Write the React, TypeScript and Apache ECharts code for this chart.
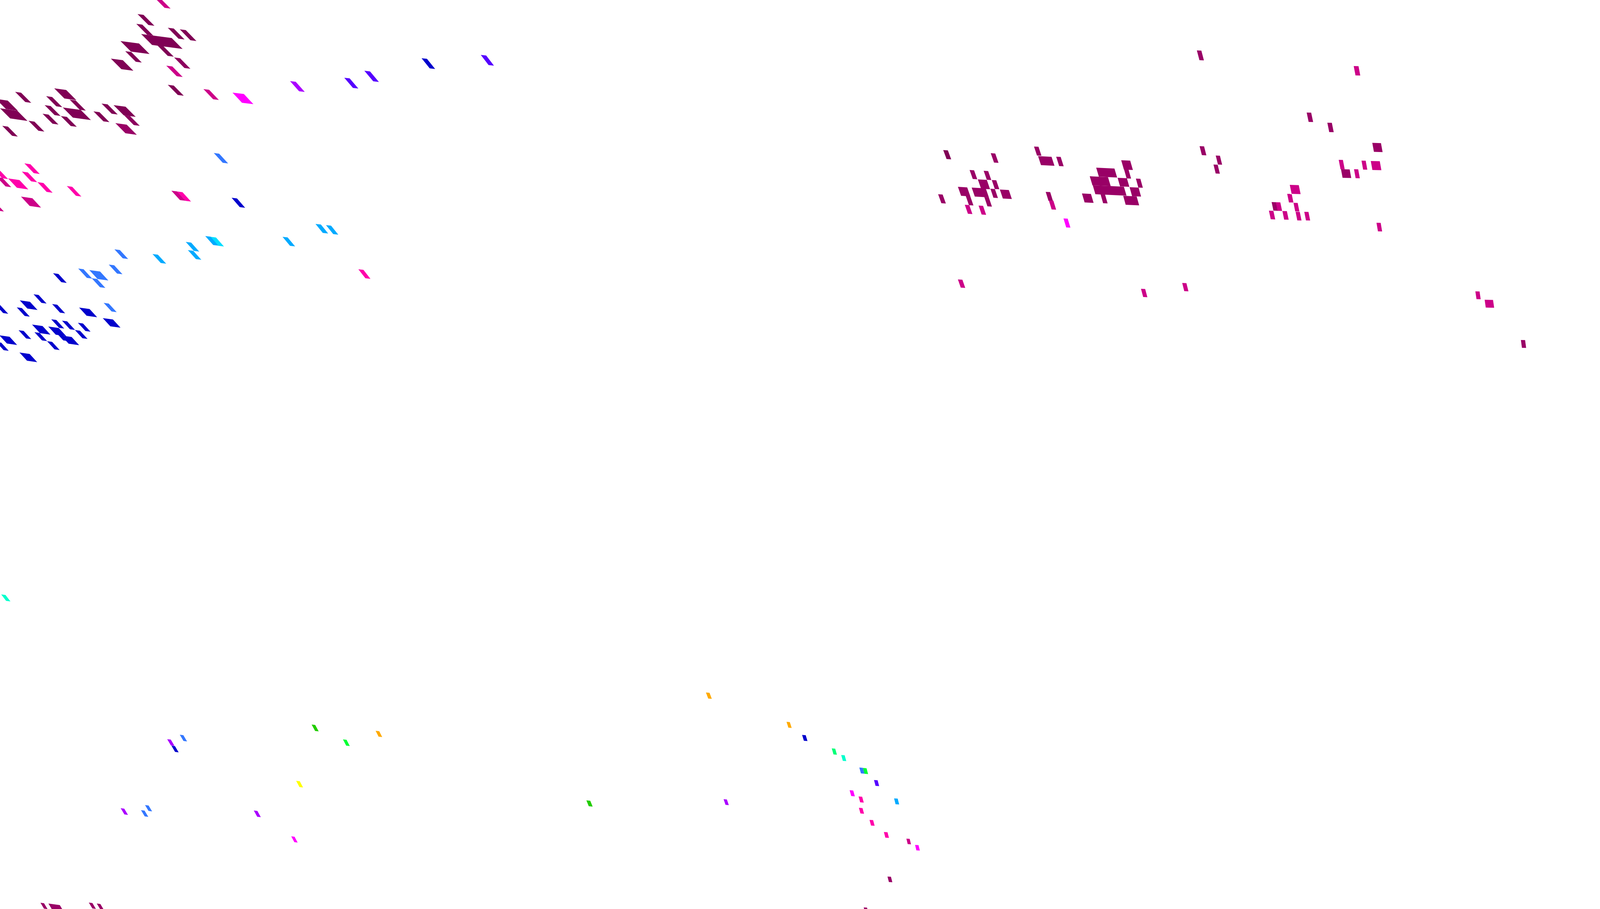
import React, { useEffect, useRef } from "react";
import * as echarts from "echarts";

// Each mark: [x, y, top width, height], in the chart's plane units (0-5340 by 0-2326).
const plum8c: number[][] = [[581,147,20,27],[414,295,20,25]];
const plum80: number[][] = [
  [459,36,20,28],[455,61,20,28],[560,71,20,28],[600,75,20,28],[471,87,102,28],[525,116,20,27],
  [402,105,62,27],[418,131,20,27],[370,150,40,27],[560,217,20,26],[50.5,235,20,26],[181,226,40,26],
  [209.5,275,60,26],[232.5,255,20,26],[154,246,20,26],[149,269,20,25.5],[142,291,20,25.5],[203,297,20,25.5],
  [312,285,20,25.5],[339,265,20,26],[379,269,40,26],[95,309,20,25.5],[7.5,322,19,25.5],[0,277,58,26],[-14,253,40,26],
  [3148,384,15.5,23],
];
const plum99: number[][] = [
  [385,315,38,26],[3306.6,392,15,24],[3451,375,15,23],[3464.5,399.5,45,23],[3525,401,15,24],
  [3236,435,15,23],[3283,437,15,23],[3263.5,459,30,24],[3310,460.7,15,23],[3197,478,31,23],
  [3243,480,47,23],[3305.5,483,15,23],[3337,485,30,23],[3131,497,15,23],[3223,501,15,24],[3285,504,15,24],
  [3490,491,15,23],[3742,410,30,24],[3658.5,429,61,23],[3751.5,433.5,15,23],[3637,451,61,23],[3647,474,104,23],
  [3730,455,31,22],[3791,457,15,23],[3770,479,30,23],[3611,495,30,23],[3673,497,15,23],[3748.6,501,45,23],
  [3994.5,129,15,25],[4361,288,15,24],[4430,314,15,24],[4003.6,374,15,23],[4057.5,398,14,23],[4050,421,14,23],
  [4580,365.6,29,23],[4475.5,433,29,22],[4244,517,15,22],[5076,870,14,20],
  [135,2310,12,15],[161.6,2312,38,15],[296.4,2309.5,12,15],[323,2312,12,15],[2962,2243,11.5,14],[2882.7,2322,11,14],
];
const magentaDeep: number[][] = [
  [513,-8,20,28],[555,168,20,27],[679,228,19,26],[-11,453,19,24],[70,503,38,24],[-36,515,20,24],[572,488,19,24],
  [3220,524,15,23],[3266,526,15,23],[3500.6,513,15,23],[3197,715,15,21],[3808,739,14,21],
  [4518,169,16,24],[4468,409,14,24],[4544,411,14,23],[4575,412,30,23],[4519,433,14,23],[4304.6,473,30,23],
  [4296,496,15,22],[4258,517.5,15,22],[4235,539,15,22],[4280,540,15,22],[4317,519,14,22],[4324,542,14,22],
  [4353,542,14,22],[4594,570,14,22],[3945.6,724,14,21],[4924,745.5,14,20],[4955,767,28,20],[3025,2146,11,14],
];
const pink: number[][] = [
  [81.5,418,20,25],[73,439,20,25],[-24,431,20,25],[27,456.5,38,24],[125,466,20,25],[223,476,18,25],[591,490,18,24],
  [1196,689,17,23],[2865.5,2038,12,15],[2866.6,2067,12,14.5],[2902,2098,12,14.5],[2950,2129,12,14.5],
];
const magenta: number[][] = [[776,237,38,26],[3549.4,559,14,23],[972,2140,11,15],[2835.6,2022,12,15],[3054,2162,11.5,14]];
const violet: number[][] = [[968,207.6,19,26],[558,1891.4,12,16],[402.7,2068,12,16],[847,2074,12,16],[2415,2045,11,14.5]];
const indigo: number[][] = [[1149,199,18,26],[1216,181,19,27],[1604.6,140.6,18,26],[2917,1996,12,15]];
const navy: number[][] = [
  [773,506,18,24],[177,699,18,23],[112,753,17,22],[66,768.5,34,21],[-16,779,17,22],[56,786.5,17,22],[174,778,17,22],
  [264,787,35,21],[343,814,34,21],[171,817,17,22],[207,820.5,17,22],[260,826,17,21],[107,830.5,35,22],[161,835.5,35,21],
  [204,858.5,35,21],[186,850,17,21],[250,844.5,17,21],[115,850,17,21],[62,845,17,21],[157,873,17,21],[-2,858,34,21],
  [-13,875,17,21],[65,902,34,21],[1407,149,18,26],[572,1908,12,16],[2677,1880.5,12,15],
];
const azure: number[][] = [
  [713.5,391.5,18,25],[382,638,18,23],[363,677,18,23],[261,687,18,24],[298,691,36,23],[306,712,18,23],[346,775,17,22],
  [600,1880,12,16],[484,2060,12,15],[470.5,2073,12,16],[2868,1964,12,15],
];
const sky: number[][] = [[685,604,19,23],[620,619,18,23],[627,640,18,23],[509,650,18,23],[1053,573,18,23],[1088,576,17,23],[943,606,17,23],[2984,2043,12,15]];
const cyan: number[][] = [[703,606,18,23]];
const turquoise: number[][] = [[4,1521,14.5,16.5],[2807.5,1932,11.5,15]];
const mint: number[][] = [[2776,1915,11.5,15.5]];
const lime: number[][] = [[1144.6,1892,12,16],[2880,1965,12,15]];
const leaf: number[][] = [[1040,1854,12,16.5],[1957,2048,13,15]];
const yellow: number[][] = [[988.4,1998,12,16]];
const amber: number[][] = [[1253.6,1870,12,15],[2356,1772,12,15.5],[2625,1847,11,15]];

const groups: [string, number[][]][] = [
  ["#8c005e", plum8c], ["#800055", plum80], ["#990066", plum99], ["#cc0088", magentaDeep], ["#ff00aa", pink],
  ["#ff00ff", magenta], ["#aa00ff", violet], ["#5500ff", indigo], ["#0000cc", navy], ["#3377ff", azure],
  ["#00aaff", sky], ["#00ddff", cyan], ["#00ffcc", turquoise], ["#00ff77", mint], ["#00ff33", lime],
  ["#22cc00", leaf], ["#ffff00", yellow], ["#ffaa00", amber],
];

const shearByX = [[-50,1.3],[500,1.3],[1000,1.15],[1600,1.0],[3150,0.5],[4500,0.25],[5100,0.185]];
const shearByY = [[0,1],[300,1],[500,0.93],[900,0.92],[1500,0.77],[1900,0.6],[2326,0.6]];

function lookup(table: number[][], v: number) {
  if (v <= table[0][0]) return table[0][1];
  for (let i = 1; i < table.length; i++) {
    if (v <= table[i][0]) {
      const [a, b] = table[i - 1];
      const [c, d] = table[i];
      return b + ((d - b) * (v - a)) / (c - a);
    }
  }
  return table[table.length - 1][1];
}

export default function App() {
  const ref = useRef<HTMLDivElement>(null);
  useEffect(() => {
    const chart = echarts.init(ref.current!, undefined, { renderer: "svg" });
    chart.setOption({
      animation: false,
      backgroundColor: "#ffffff",
      grid: { left: 0, right: 0, top: 0, bottom: 0 },
      xAxis: { type: "value", min: 0, max: 5340, show: false },
      yAxis: { type: "value", min: 0, max: 2326, inverse: true, show: false },
      series: groups.map(([color, data]) => ({
        type: "custom",
        coordinateSystem: "cartesian2d",
        clip: false,
        silent: true,
        encode: { x: 0, y: 1 },
        data,
        renderItem: (_p: any, api: any) => {
          const x = api.value(0), y = api.value(1), w = api.value(2), h = api.value(3);
          const s = lookup(shearByX, x) * lookup(shearByY, y);
          const t = Math.max(0.015, 0.11 - 0.00002 * x);
          const points = [
            api.coord([x, y]),
            api.coord([x + w, y + w * t]),
            api.coord([x + w + h * s, y + w * t + h]),
            api.coord([x + h * s, y + h]),
          ];
          return { type: "polygon", shape: { points }, style: { fill: color, stroke: null } };
        },
      })),
    });
    return () => chart.dispose();
  }, []);
  return <div ref={ref} style={{ position: "absolute", left: 0, top: 0, width: "100vw", height: "100vh" }} />;
}
